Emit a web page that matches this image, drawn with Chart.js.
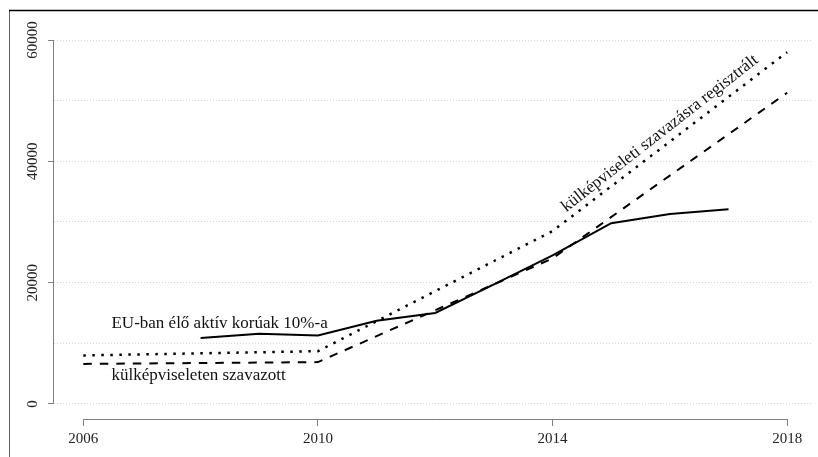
<!DOCTYPE html>
<html>
<head>
<meta charset="utf-8">
<script src="https://cdn.jsdelivr.net/npm/chart.js@4"></script>
<style>
  html, body { margin: 0; padding: 0; background: #fff; }
  #wrap { width: 818px; height: 457px; position: relative; }
</style>
</head>
<body>
<div id="wrap"><canvas id="chart"></canvas></div>
<script>
// election years: registered for voting abroad / voted at embassies
const electionYears = [2006, 2010, 2014, 2018];
const registered = [8000, 8700, 28500, 58000];
const votedAbroad = [6600, 6900, 24000, 51300];

// 10% of working-age Hungarians living in the EU
const euYears = [2008, 2009, 2010, 2011, 2012, 2013, 2014, 2015, 2016, 2017];
const euTenPct = [10860, 11570, 11300, 13700, 15000, 19700, 24500, 29800, 31300, 32100];

const xTicks = [2006, 2010, 2014, 2018];
const yTicks = [0, 20000, 40000, 60000];
const yGrid = [0, 10000, 20000, 30000, 40000, 50000, 60000];

const notes = [
  { text: "EU-ban élő aktív korúak 10%-a", x: 2006.48, y: 13200, angle: 0, align: "left" },
  { text: "külképviseleten szavazott", x: 2006.48, y: 4700, angle: 0, align: "left" },
  { text: "külképviseleti szavazásra regisztrált", x: 2015.83, y: 44600, angle: -38, align: "center" }
];

const serif = '"Liberation Serif", "Times New Roman", serif';
const axisGrey = "#808080";

function toPoints(xs, ys) {
  return xs.map((x, i) => ({ x: x, y: ys[i] }));
}

function makeDataset(label, data, width, dash) {
  return {
    label,
    data,
    borderColor: "#000",
    backgroundColor: "transparent",
    borderWidth: width,
    borderDash: dash,
    borderCapStyle: "butt",
    tension: 0,
    pointRadius: 0,
    fill: false
  };
}

// R-style axis lines that only span the tick range
const axisLines = {
  id: "axisLines",
  afterDraw(chart) {
    let { ctx, scales: { x, y } } = chart;
    ctx.save();
    ctx.strokeStyle = axisGrey;
    ctx.lineWidth = 1;
    ctx.beginPath();
    let yx = Math.round(y.right) - 0.5;
    ctx.moveTo(yx, y.getPixelForValue(yTicks[0]));
    ctx.lineTo(yx, y.getPixelForValue(yTicks[yTicks.length - 1]));
    let xy = Math.round(x.top) + 0.5;
    ctx.moveTo(x.getPixelForValue(xTicks[0]), xy);
    ctx.lineTo(x.getPixelForValue(xTicks[xTicks.length - 1]), xy);
    ctx.stroke();
    ctx.restore();
  }
};

// in-plot text labels placed in data coordinates
const noteLabels = {
  id: "noteLabels",
  afterDatasetsDraw(chart) {
    let { ctx, scales: { x, y } } = chart;
    ctx.save();
    ctx.fillStyle = "#111";
    ctx.font = "17px " + serif;
    ctx.textBaseline = "middle";
    notes.forEach(n => {
      ctx.save();
      ctx.translate(x.getPixelForValue(n.x), y.getPixelForValue(n.y));
      ctx.rotate(n.angle * Math.PI / 180);
      ctx.textAlign = n.align;
      ctx.fillText(n.text, 0, 0);
      ctx.restore();
    });
    ctx.restore();
  }
};

// frame edges of the original crop
const frame = {
  id: "frame",
  afterDraw(chart) {
    let ctx = chart.ctx;
    ctx.save();
    ctx.strokeStyle = "#666";
    ctx.lineWidth = 1;
    ctx.beginPath();
    ctx.moveTo(9.5, 10);
    ctx.lineTo(9.5, chart.height);
    ctx.stroke();
    ctx.strokeStyle = "#000";
    ctx.lineWidth = 1.6;
    ctx.beginPath();
    ctx.moveTo(9, 10.5);
    ctx.lineTo(chart.width, 10.5);
    ctx.stroke();
    ctx.restore();
  }
};

new Chart(document.getElementById("chart").getContext("2d"), {
  type: "line",
  data: {
    datasets: [
      makeDataset("külképviseleti szavazásra regisztrált", toPoints(electionYears, registered), 2.5, [2.5, 6.5]),
      makeDataset("külképviseleten szavazott", toPoints(electionYears, votedAbroad), 2, [8.5, 8]),
      makeDataset("EU-ban élő aktív korúak 10%-a", toPoints(euYears, euTenPct), 2, [])
    ]
  },
  options: {
    responsive: true,
    maintainAspectRatio: false,
    animation: false,
    layout: { padding: { top: 40, right: 5, bottom: 5, left: 0 } },
    plugins: {
      legend: { display: false },
      tooltip: { enabled: false }
    },
    scales: {
      x: {
        type: "linear",
        min: 2005.5,
        max: 2018.44,
        afterBuildTicks: s => { s.ticks = xTicks.map(v => ({ value: v })); },
        grid: { drawOnChartArea: false, drawTicks: true, tickLength: 7, tickColor: axisGrey, tickWidth: 1 },
        border: { display: false },
        ticks: {
          padding: 4,
          color: "#222",
          font: { family: serif, size: 15 },
          maxRotation: 0,
          autoSkip: false,
          callback: v => String(v)
        }
      },
      y: {
        min: -2480,
        max: 60000,
        afterBuildTicks: s => { s.ticks = yGrid.map(v => ({ value: v })); },
        afterFit: s => { s.width = 54; },
        grid: {
          color: "#d6d6d6",
          lineWidth: 1,
          drawTicks: true,
          tickLength: 6,
          tickWidth: 1,
          tickColor: c => (c.tick && yTicks.includes(c.tick.value)) ? axisGrey : "rgba(0,0,0,0)"
        },
        border: { display: false, dash: [1, 2] },
        ticks: {
          minRotation: 90,
          maxRotation: 90,
          crossAlign: "center",
          padding: -4,
          color: "#222",
          font: { family: serif, size: 15 },
          callback: v => yTicks.includes(v) ? String(v) : ""
        }
      }
    }
  },
  plugins: [axisLines, noteLabels, frame]
});
</script>
</body>
</html>
